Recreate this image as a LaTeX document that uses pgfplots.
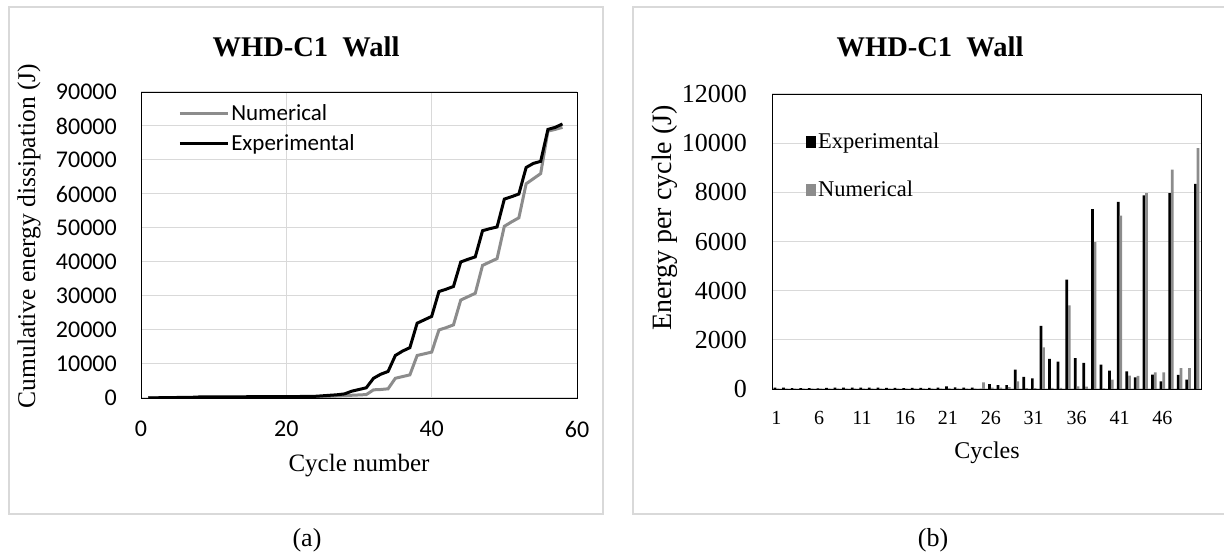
\documentclass[border=0pt]{standalone}
\usepackage{fontspec}
\setmainfont{Liberation Serif}
\newfontfamily\calibri{Carlito}
\usepackage{pgfplots}
\pgfplotsset{compat=1.18}
\usepackage{pgfplotstable}
\definecolor{gridgray}{HTML}{D9D9D9}
\definecolor{numgray}{HTML}{8C8C8C}
\definecolor{framegray}{HTML}{D9D9D9}

\pgfplotstableread{
c exp num
1 0 0
2 50 0
3 100 30
4 100 50
5 150 80
6 150 100
7 200 120
8 300 150
9 310 160
10 320 170
11 330 180
12 340 190
13 350 200
14 360 210
15 370 220
16 380 230
17 390 240
18 400 250
19 410 260
20 420 270
21 430 280
22 440 290
23 450 300
24 500 320
25 650 400
26 800 500
27 950 600
28 1200 700
29 2000 800
30 2500 900
31 3000 1000
32 5800 2400
33 7000 2500
34 7800 2700
35 12500 5800
36 13800 6300
37 14800 6800
38 22000 12500
39 23000 13000
40 24000 13500
41 31300 20000
42 32000 20700
43 32800 21500
44 40000 28800
45 40800 29800
46 41500 30800
47 49200 39000
48 49800 40000
49 50300 41000
50 58500 50500
51 59200 51800
52 60000 53000
53 67800 63000
54 69000 64500
55 69600 66000
56 79000 78500
57 79600 79000
58 80600 79600
}\cumdata

\pgfplotstableread{
c exp num
1 60 10
2 60 10
3 40 10
4 40 10
5 40 10
6 30 10
7 50 10
8 60 10
9 60 10
10 60 10
11 60 10
12 60 10
13 60 10
14 50 10
15 50 10
16 40 10
17 50 10
18 50 10
19 50 10
20 60 10
21 110 20
22 70 10
23 60 10
24 60 10
25 0 270
26 200 60
27 160 60
28 160 80
29 790 310
30 490 40
31 430 40
32 2570 1690
33 1220 50
34 1110 50
35 4450 3400
36 1260 110
37 1060 100
38 7320 5970
39 990 20
40 750 380
41 7610 7050
42 720 540
43 475 530
44 7880 7970
45 580 680
46 310 680
47 7970 8920
48 570 850
49 380 850
50 8340 9800
}\bardata

\begin{document}
\begin{tikzpicture}[x=1bp,y=1bp]
\path[use as bounding box] (0,0) rectangle (1224,559);
\draw[framegray,line width=2bp] (9,552) rectangle (603,45);
\draw[framegray,line width=2bp] (1230,552) -- (633,552) -- (633,45) -- (1230,45);

\begin{axis}[at={(141bp,161bp)},anchor=south west,
  width=436bp,height=306bp,scale only axis,
  xmin=0,xmax=60,ymin=0,ymax=90000,
  xtick={0,20,40,60}, ytick={0,10000,...,90000},
  grid=major, major grid style={gridgray,line width=1bp},
  axis line style={black,line width=0.9bp},
  major tick length=0pt,
  scaled y ticks=false, scaled x ticks=false,
  /pgf/number format/1000 sep={},
  /pgf/number format/assume math mode=true,
  ticklabel style={font=\calibri\fontsize{24bp}{28bp}\selectfont, inner sep=0pt},
  yticklabel style={anchor=east,xshift=-24bp},
  xticklabel style={anchor=north,yshift=-23bp},
  legend cell align=left,
  legend style={draw=none,fill=none,at={(rel axis cs:0.085,0.965)},anchor=north west,
    font=\calibri\fontsize{23bp}{27bp}\selectfont, inner sep=0pt,
    row sep=8bp, nodes={inner sep=2bp}},
  legend image code/.code={\draw[#1,line width=3bp] (0bp,0bp) -- (48bp,0bp);},
]
\addplot[numgray,line width=3bp] table[x=c,y=num]{\cumdata};
\addlegendentry{Numerical}
\addplot[black,line width=3bp] table[x=c,y=exp]{\cumdata};
\addlegendentry{Experimental}
\end{axis}

\begin{axis}[at={(772bp,170bp)},anchor=south west,
  width=429bp,height=295bp,scale only axis,
  ybar=0pt, bar width=2.7bp,
  xmin=0.5,xmax=50.5,ymin=0,ymax=12000,
  xtick={1,6,...,46}, ytick={0,2000,...,12000},
  ymajorgrids, major grid style={gridgray,line width=1bp},
  axis line style={black,line width=0.9bp},
  major tick length=0pt,
  scaled y ticks=false,
  /pgf/number format/1000 sep={},
  /pgf/number format/assume math mode=true,
  yticklabel style={font=\fontsize{26bp}{30bp}\selectfont,inner sep=0pt,anchor=east,xshift=-25bp},
  xticklabel style={font=\fontsize{20bp}{23bp}\selectfont,inner sep=0pt,anchor=north,yshift=-22bp},
  legend cell align=left,
  legend style={draw=none,fill=none,at={(rel axis cs:0.079,0.875)},anchor=north west,
    font=\fontsize{22.5bp}{27bp}\selectfont, inner sep=0pt,
    row sep=27bp, nodes={inner sep=2bp}},
  legend image code/.code={\fill[#1] (0bp,-6bp) rectangle (10bp,6bp);},
]
\addplot[fill=black,draw=none] table[x=c,y=exp]{\bardata};
\addlegendentry{Experimental}
\addplot[fill=numgray,draw=none] table[x=c,y=num]{\bardata};
\addlegendentry{Numerical}
\end{axis}

\node[font=\bfseries\fontsize{28.5bp}{32bp}\selectfont] at (306,512) {WHD-C1\ \ Wall};
\node[font=\bfseries\fontsize{28.5bp}{32bp}\selectfont] at (930,512) {WHD-C1\ \ Wall};
\node[font=\fontsize{26bp}{30bp}\selectfont] at (307,19) {(a)};
\node[font=\fontsize{26bp}{30bp}\selectfont] at (933,19) {(b)};
\node[font=\fontsize{25.5bp}{29bp}\selectfont,rotate=90] at (29,323) {Cumulative energy dissipation (J)};
\node[font=\fontsize{25bp}{29bp}\selectfont] at (359,93) {Cycle number};
\node[font=\fontsize{28bp}{32bp}\selectfont,rotate=90] at (665,341) {Energy per cycle (J)};
\node[font=\fontsize{24bp}{28bp}\selectfont] at (987,106) {Cycles};
\end{tikzpicture}
\end{document}
